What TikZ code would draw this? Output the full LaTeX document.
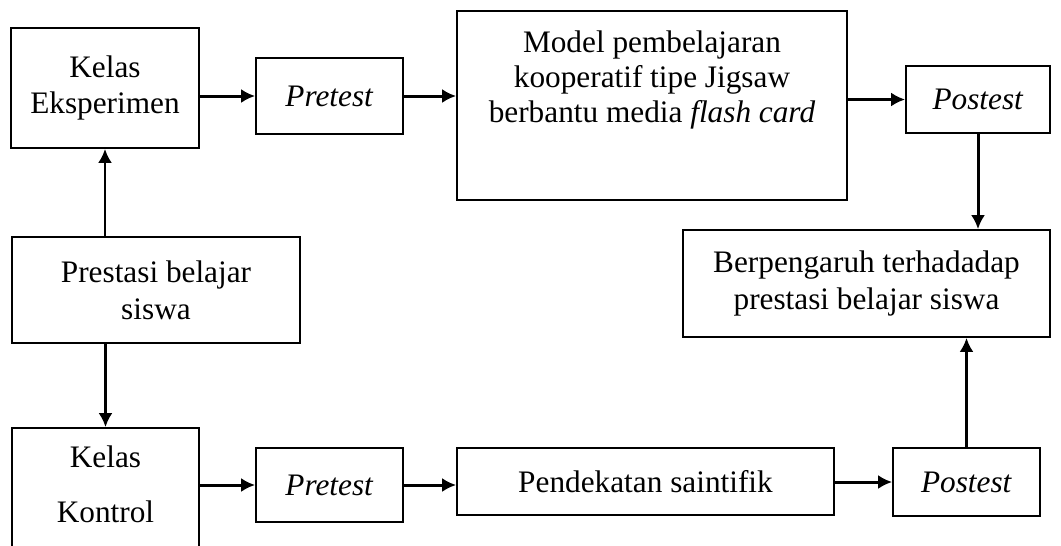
\documentclass[tikz,border=0pt]{standalone}
\usepackage{fontspec}
\setmainfont{Liberation Serif}
\usetikzlibrary{arrows.meta}
\begin{document}
\begin{tikzpicture}[
        box/.style={draw, line width=1pt, align=center, inner sep=0pt,
                    font=\fontsize{17.8}{21}\selectfont},
        arrow/.style={-{Latex[length=2.8mm,width=2.8mm]}, line width=1.7pt}
    ]
    \useasboundingbox (0,0) rectangle (21.22,-10.9);

    % Top row: kelas eksperimen
    \node[box, minimum width=3.76cm, minimum height=2.4cm] (ke) at (2.1,-1.76) {Kelas\\Eksperimen};
    \node[box, minimum width=2.94cm, minimum height=1.52cm] (pre1) at (6.59,-1.92) {\textit{Pretest}};
    \node[box, minimum width=7.8cm, minimum height=3.78cm] (model) at (13.04,-2.11)
        {\parbox[c][3.78cm][t]{7.6cm}{\centering\fontsize{17.8}{20}\selectfont
        \rule{0pt}{0.82cm}Model pembelajaran\\kooperatif tipe Jigsaw\\berbantu media \textit{flash card}}};
    \node[box, minimum width=2.88cm, minimum height=1.34cm] (post1) at (19.56,-1.99) {\textit{Postest}};

    % Middle row
    \node[box, minimum width=5.76cm, minimum height=2.12cm] (pres) at (3.12,-5.8) {Prestasi belajar\\siswa};
    \node[box, minimum width=7.34cm, minimum height=2.14cm] (berp) at (17.33,-5.67) {Berpengaruh terhadadap\\prestasi belajar siswa};

    % Bottom row: kelas kontrol
    \node[box, minimum width=3.74cm, minimum height=2.94cm] (kk) at (2.11,-10.03)
        {\parbox[c][2.94cm][t]{3.6cm}{\centering\rule{0pt}{0.78cm}Kelas\\[10.3pt]Kontrol}};
    \node[box, minimum width=2.94cm, minimum height=1.48cm] (pre2) at (6.59,-9.7) {\textit{Pretest}};
    \node[box, minimum width=7.54cm, minimum height=1.34cm] (pend) at (12.91,-9.63) {Pendekatan saintifik};
    \node[box, minimum width=2.94cm, minimum height=1.36cm] (post2) at (19.33,-9.64) {\textit{Postest}};

    % Arrows for top row
    \draw[arrow] (ke.east |- pre1) -- (pre1.west);
    \draw[arrow] (pre1.east) -- (model.west |- pre1);
    \draw[arrow] (model.east |- post1) -- (post1.west);
    \draw[arrow] (post1.south) -- (post1.south |- berp.north);

    % Arrows from prestasi belajar
    \draw[arrow] (ke.south |- pres.north) -- (ke.south);
    \draw[arrow] (kk.north |- pres.south) -- (kk.north);

    % Arrows for bottom row
    \draw[arrow] (kk.east |- pre2) -- (pre2.west);
    \draw[arrow] (pre2.east) -- (pend.west |- pre2);
    \draw[arrow] (pend.east |- post2) -- (post2.west);
    \draw[arrow] (post2.north) -- (post2.north |- berp.south);

\end{tikzpicture}
\end{document}
